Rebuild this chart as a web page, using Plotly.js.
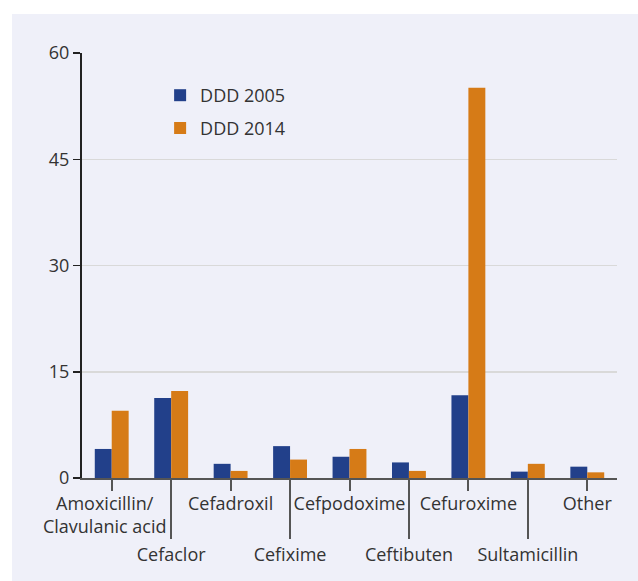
<!DOCTYPE html>
<html>
<head>
<meta charset="utf-8">
<script src="https://cdn.plot.ly/plotly-3.0.1.min.js"></script>
<style>
  html, body { margin: 0; padding: 0; background: #ffffff; }
  #chart { position: absolute; left: 12px; top: 14px; width: 626px; height: 567px; }
</style>
</head>
<body>
<div id="chart"></div>
<script>
// Data
var categories = ['Amoxicillin/Clavulanic acid', 'Cefaclor', 'Cefadroxil', 'Cefixime', 'Cefpodoxime', 'Ceftibuten', 'Cefuroxime', 'Sultamicillin', 'Other'];
var ddd2005 = [4.1, 11.3, 2.0, 4.5, 3.0, 2.2, 11.7, 0.9, 1.6];
var ddd2014 = [9.5, 12.3, 1.0, 2.6, 4.1, 1.0, 55.1, 2.0, 0.8];
var seriesNames = ['DDD 2005', 'DDD 2014'];
// Tick labels: upper row (short ticks) and lower row (long ticks)
var upperTickIdx = [0, 2, 4, 6, 8];
var upperTickText = ['Amoxicillin/\u00a0\u00a0\u00a0<br>Clavulanic acid\u00a0\u00a0\u00a0', 'Cefadroxil', 'Cefpodoxime', 'Cefuroxime', 'Other'];
var lowerTickIdx = [1, 3, 5, 7];
var lowerTickText = ['Cefaclor', 'Cefixime', 'Ceftibuten', 'Sultamicillin'];
var yTicks = [0, 15, 30, 45, 60];

var font = 'Open Sans, Noto Sans, sans-serif';
var textColor = '#333333';

var traces = [
  { type: 'bar', name: seriesNames[0], x: categories, y: ddd2005,
    marker: { color: '#22408a' }, legend: 'legend', hoverinfo: 'skip' },
  { type: 'bar', name: seriesNames[1], x: categories, y: ddd2014,
    marker: { color: '#d67b17' }, legend: 'legend2', hoverinfo: 'skip' },
  { type: 'scatter', x: [], y: [], xaxis: 'x2', showlegend: false, hoverinfo: 'skip' }
];

var layout = {
  width: 626, height: 567,
  paper_bgcolor: '#eff0f9', plot_bgcolor: '#eff0f9',
  margin: { l: 70, r: 21, t: 39, b: 103, pad: 0 },
  font: { family: font, size: 18, color: textColor },
  barmode: 'group', bargap: 0.43, bargroupgap: 0,
  showlegend: true,
  legend: { x: 0.146, y: 0.9, xanchor: 'left', yanchor: 'middle', bgcolor: 'rgba(0,0,0,0)',
            font: { family: font, size: 18, color: textColor } },
  legend2: { x: 0.146, y: 0.823, xanchor: 'left', yanchor: 'middle', bgcolor: 'rgba(0,0,0,0)',
             font: { family: font, size: 18, color: textColor } },
  xaxis: {
    type: 'category', range: [-0.5, 8.5], fixedrange: true,
    tickmode: 'array', tickvals: upperTickIdx, ticktext: upperTickText,
    ticks: 'outside', ticklen: 11, tickwidth: 2, tickcolor: '#555555',
    ticklabelstandoff: -3,
    showline: true, linecolor: '#555555', linewidth: 2,
    showgrid: false, zeroline: false,
    tickfont: { family: font, size: 18, color: textColor }
  },
  xaxis2: {
    type: 'linear', range: [-0.5, 8.5], overlaying: 'x', anchor: 'y', side: 'bottom', fixedrange: true,
    tickmode: 'array', tickvals: lowerTickIdx, ticktext: lowerTickText,
    ticks: 'outside', ticklen: 60, tickwidth: 2, tickcolor: '#555555',
    showline: false, showgrid: false, zeroline: false,
    tickfont: { family: font, size: 18, color: textColor }
  },
  yaxis: {
    range: [0, 60], fixedrange: true,
    tickmode: 'array', tickvals: yTicks, ticktext: yTicks.map(String),
    ticks: 'outside', ticklen: 7, tickwidth: 1.5, tickcolor: '#222222',
    showline: true, linecolor: '#222222', linewidth: 2,
    showgrid: true, gridcolor: '#d9d9d9', gridwidth: 1.5,
    zeroline: false,
    tickfont: { family: font, size: 18, color: textColor }
  }
};

Plotly.newPlot('chart', traces, layout, { displayModeBar: false, staticPlot: true });
</script>
</body>
</html>
